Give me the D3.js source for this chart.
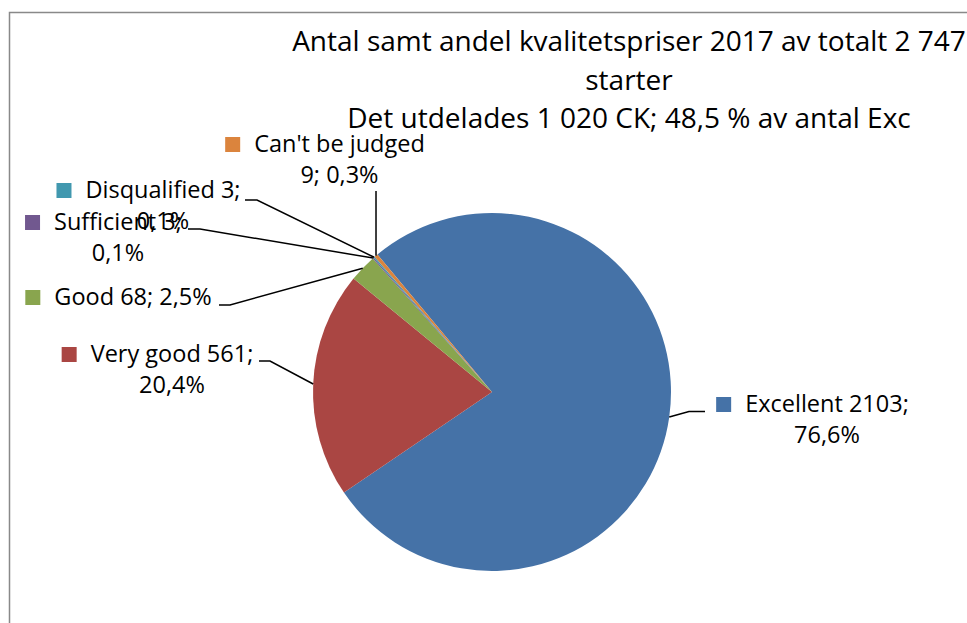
<!DOCTYPE html>
<html>
<head>
	<meta charset="utf-8">
	<title>Kvalitetspriser 2017</title>
	<style>
		body { margin: 0; background: #fff; }
		text { font-family: "Open Sans", sans-serif; fill: #000; }
	</style>
</head>
<body>
	<script src="https://d3js.org/d3.v7.min.js" charset="utf-8"></script>
	<script>
var categories = ['Excellent', 'Very good', 'Good', 'Sufficient', 'Disqualified', "Can't be judged"];
var values = [2103, 561, 68, 3, 3, 9];
var colors = ['#4572A7', '#AA4643', '#89A54E', '#71588F', '#4198AF', '#DB843D'];
var titleLines = ['Antal samt andel kvalitetspriser 2017 av totalt 2 747', 'starter', 'Det utdelades 1 020 CK; 48,5 % av antal Exc'];

// where each data label sits (text centre x, first baseline y) and leader elbow
var labelLayout = [
	{ cx: 827, y: 412, wrap: 'value', elbow: [689, 411.5], end: [705, 411.5] },
	{ cx: 172, y: 362, wrap: 'value', elbow: [270, 361], end: [259, 361] },
	{ cx: 133, y: 305, wrap: 'none', elbow: [230, 305], end: [219, 305] },
	{ cx: 118, y: 230, wrap: 'value', elbow: [200, 229], end: [188, 229] },
	{ cx: 163, y: 198, wrap: 'value', elbow: [257, 200], end: [245, 200] },
	{ cx: 339.5, y: 152, wrap: 'name', elbow: null, end: [null, 191] }
];

var width = 967, height = 623;
var cx = 492, cy = 392, radius = 179;
var total = d3.sum(values);
var pctFmt = function(v) { return d3.format('.1f')(v / total * 100).replace('.', ',') + '%'; };

var svg = d3.select('body').append('svg')
			.attr('width', width)
			.attr('height', height);

// chart area border (only top and left visible)
svg.append('path')
	.attr('d', 'M9.5,' + height + 'V12.5H' + width)
	.attr('fill', 'none')
	.attr('stroke', '#898989')
	.attr('stroke-width', 1.5);

svg.selectAll('text.title')
	.data(titleLines)
	.enter().append('text')
	.attr('class', 'title')
	.attr('x', 629)
	.attr('y', function(d, i) { return 51 + i * 38.5; })
	.attr('text-anchor', 'middle')
	.style('font-size', '28px')
	.text(function(d) { return d; });

var pie = d3.pie()
	.sort(null)
	.startAngle(320.2 * Math.PI / 180)
	.endAngle(320.2 * Math.PI / 180 + 2 * Math.PI);

var arcs = pie(values);
var arc = d3.arc().innerRadius(0).outerRadius(radius);
var edge = d3.arc().innerRadius(radius).outerRadius(radius);

var g = svg.append('g').attr('transform', 'translate(' + cx + ',' + cy + ')');

g.selectAll('path.slice')
	.data(arcs)
	.enter().append('path')
	.attr('class', 'slice')
	.attr('d', arc)
	.attr('fill', function(d, i) { return colors[i]; });

// leader lines
svg.selectAll('polyline.leader')
	.data(arcs)
	.enter().append('polyline')
	.attr('class', 'leader')
	.attr('fill', 'none')
	.attr('stroke', '#000')
	.attr('stroke-width', 1.5)
	.attr('points', function(d, i) {
		var p = edge.centroid(d);
		var start = [cx + p[0], cy + p[1]];
		var L = labelLayout[i];
		var pts = [start];
		if (L.elbow) pts.push(L.elbow);
		pts.push([L.end[0] == null ? start[0] : L.end[0], L.end[1]]);
		return pts.map(function(q) { return q.join(','); }).join(' ');
	});

// data labels with legend keys
arcs.forEach(function(d, i) {
	var L = labelLayout[i];
	var name = categories[i], v = values[i], pct = pctFmt(v);
	var lines;
	if (L.wrap === 'value') lines = [name + ' ' + v + ';', pct];
	else if (L.wrap === 'name') lines = [name, v + '; ' + pct];
	else lines = [name + ' ' + v + '; ' + pct];

	var lg = svg.append('g');
	var texts = lg.selectAll('text')
		.data(lines)
		.enter().append('text')
		.attr('x', L.cx)
		.attr('y', function(t, j) { return L.y + j * 31; })
		.attr('text-anchor', 'middle')
		.style('font-size', '23.5px')
		.text(function(t) { return t; });

	var w = texts.node().getComputedTextLength();
	lg.append('rect')
		.attr('x', L.cx - w / 2 - 14 - 15)
		.attr('y', L.y - 15)
		.attr('width', 15)
		.attr('height', 15)
		.attr('fill', colors[i]);
});
	</script>
</body>
</html>
